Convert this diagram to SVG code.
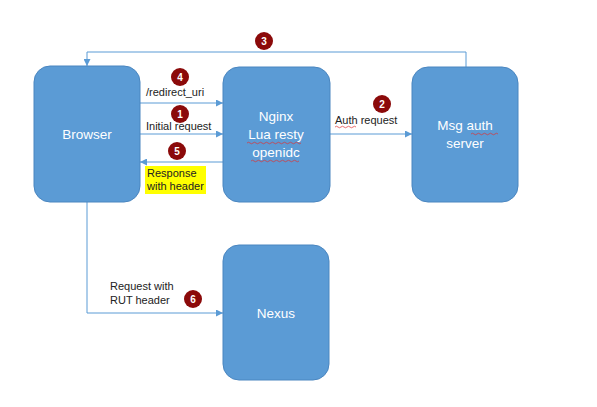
<svg xmlns="http://www.w3.org/2000/svg" width="597" height="407" viewBox="0 0 597 407">
<defs>
<style>
.node{fill:#5B9BD5;stroke:#4A86C0;stroke-width:1}
.nt{fill:#fff;font-family:"Liberation Sans",Arial,sans-serif;font-size:13.5px;text-anchor:middle}
.lbl{fill:#222;font-family:"Liberation Sans",Arial,sans-serif;font-size:11px}
.con{fill:none;stroke:#5B9BD5;stroke-width:1}
.badge circle{fill:#8B0A0A}
.badge text{fill:#fff;font-family:"Liberation Sans",Arial,sans-serif;font-size:10px;text-anchor:middle;font-weight:bold}
.sq{fill:none;stroke:#E03030;stroke-width:0.7}
</style>
<marker id="ah" viewBox="0 0 10 10" refX="10" refY="5" markerWidth="7" markerHeight="7" orient="auto-start-reverse" markerUnits="userSpaceOnUse">
<path d="M0,0 L10,5 L0,10 z" fill="#5B9BD5"/>
</marker>
</defs>
<rect width="597" height="407" fill="#fff"/>
<g id="connectors">
<polyline class="con" points="466,67 466,52 87,52 87,66" marker-end="url(#ah)"/>
<line class="con" x1="140" y1="103" x2="223" y2="103" marker-end="url(#ah)"/>
<line class="con" x1="140" y1="134" x2="223" y2="134" marker-end="url(#ah)"/>
<line class="con" x1="223" y1="162" x2="140" y2="162" marker-end="url(#ah)"/>
<line class="con" x1="330" y1="134" x2="412" y2="134" marker-end="url(#ah)"/>
<polyline class="con" points="87,202 87,313 223,313" marker-end="url(#ah)"/>
</g>
<g id="browser">
<rect class="node" x="34" y="66" width="106" height="136" rx="16"/>
<text class="nt" x="87" y="139">Browser</text>
</g>
<g id="nginx">
<rect class="node" x="223" y="67" width="107" height="135" rx="16"/>
<text class="nt" x="276" y="121">Nginx</text>
<text class="nt" x="276" y="139">Lua resty</text>
<text class="nt" x="276" y="157">openidc</text>
<path class="sq" d="M247,143 q1.5,-1.5 3,0 t3,0 t3,0 t3,0 t3,0 t3,0 t3,0 t3,0 t3,0 t3,0 t3,0 t3,0 t3,0 t3,0 t3,0 t3,0 t3,0 t3,0"/>
<path class="sq" d="M251,161 q1.5,-1.5 3,0 t3,0 t3,0 t3,0 t3,0 t3,0 t3,0 t3,0 t3,0 t3,0 t3,0 t3,0 t3,0 t3,0 t3,0 t3,0"/>
</g>
<g id="msgauth">
<rect class="node" x="412" y="67" width="106" height="135" rx="16"/>
<text class="nt" x="465" y="130">Msg auth</text>
<text class="nt" x="465" y="148">server</text>
<path class="sq" d="M471,134 q1.5,-1.5 3,0 t3,0 t3,0 t3,0 t3,0 t3,0 t3,0 t3,0 t3,0"/>
</g>
<g id="nexus">
<rect class="node" x="223" y="245" width="106" height="135" rx="16"/>
<text class="nt" x="276" y="318">Nexus</text>
</g>
<g id="labels">
<text class="lbl" x="146" y="96">/redirect_uri</text>
<text class="lbl" x="146" y="130">Initial request</text>
<rect x="145" y="166" width="61" height="28" fill="#FFFF00"/>
<text class="lbl" x="147" y="177">Response</text>
<text class="lbl" x="147" y="190">with header</text>
<text class="lbl" x="335" y="124">Auth request</text>
<path class="sq" d="M335,127 q1.5,-1.5 3,0 t3,0 t3,0 t3,0 t3,0 t3,0 t3,0"/>
<text class="lbl" x="110" y="290">Request with</text>
<text class="lbl" x="110" y="304">RUT header</text>
</g>
<g id="badges" class="badge">
<g><circle cx="264" cy="41" r="9"/><text x="264" y="45">3</text></g>
<g><circle cx="180" cy="77" r="9"/><text x="180" y="81">4</text></g>
<g><circle cx="180" cy="114" r="9"/><text x="180" y="118">1</text></g>
<g><circle cx="177" cy="151" r="9"/><text x="177" y="155">5</text></g>
<g><circle cx="382" cy="104" r="9"/><text x="382" y="108">2</text></g>
<g><circle cx="193" cy="299" r="9"/><text x="193" y="303">6</text></g>
</g>
</svg>
